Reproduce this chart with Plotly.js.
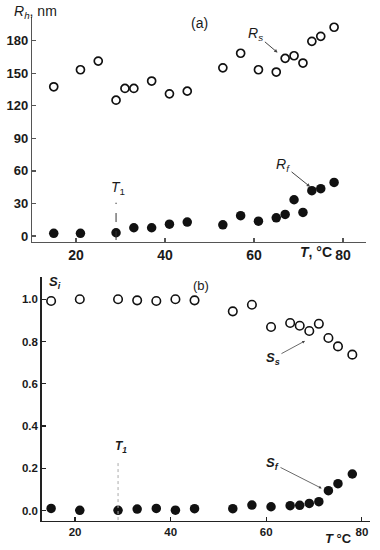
<!DOCTYPE html>
<html>
<head>
<meta charset="utf-8">
<script src="https://cdn.plot.ly/plotly-3.0.1.min.js"></script>
<style>
html,body{margin:0;padding:0;background:#fff;}
#chart{width:380px;height:550px;}
</style>
</head>
<body>
<div id="chart"></div>
<script>
// ---- Data ----
const T_rs = [15,21,25,29,31,33,37,41,45,53,57,61,65,67,69,71,73,75,78];
const Rs   = [137.5,153.2,161.2,125.2,136,136,142.8,131,133.5,155,168.4,153.2,151.1,163.7,166.1,159.4,179.4,184,192.4];
const T_rf = [15,21,29,33,37,41,45,53,57,61,65,67,69,71,73,75,78];
const Rf   = [2.5,2.5,3,7.6,7.6,10.9,12.8,10.3,18.7,13.7,16.8,19.9,33.4,21.7,41.8,43.6,49.4];
const T_s  = [15,21,29,33,37,41,45,53,57,61,65,67,69,71,73,75,78];
const Ss   = [0.992,1.0,1.0,0.995,0.992,1.0,0.995,0.943,0.974,0.869,0.888,0.875,0.85,0.884,0.817,0.777,0.738];
const Sf   = [0.010,0.001,0.001,0.007,0.010,0.002,0.009,0.009,0.026,0.018,0.023,0.025,0.034,0.042,0.094,0.127,0.173];
const T1 = 29;
const xTicks = [20,40,60,80];
const yTicksTop = [0,30,60,90,120,150,180];
const yTicksBot = [0,0.2,0.4,0.6,0.8,1.0];

const W = 380, H = 550;
const px = v => v / W;
const py = v => 1 - v / H;

const FONT = 'Liberation Sans, Arial, sans-serif';
const txt = '#1a1a1a';

const traces = [
  {x:T_rs, y:Rs, xaxis:'x', yaxis:'y', mode:'markers', type:'scatter',
   marker:{size:8, color:'rgba(0,0,0,0)', line:{color:'#111', width:1.7}}},
  {x:T_rf, y:Rf, xaxis:'x', yaxis:'y', mode:'markers', type:'scatter',
   marker:{size:9.5, color:'#111', line:{width:0}}},
  {x:T_s, y:Ss, xaxis:'x2', yaxis:'y2', mode:'markers', type:'scatter',
   marker:{size:8.5, color:'rgba(0,0,0,0)', line:{color:'#111', width:1.6}}},
  {x:T_s, y:Sf, xaxis:'x2', yaxis:'y2', mode:'markers', type:'scatter',
   marker:{size:9.5, color:'#111', line:{width:0}}}
];

const axBase = {
  showgrid:false, zeroline:false, showline:true, ticks:'inside', ticklen:4, tickwidth:1.2,
  mirror:false, fixedrange:true
};

const lbl = (x, y, text, size) => ({xref:'paper', yref:'paper', x:px(x), y:py(y), text:text,
  showarrow:false, xanchor:'center', yanchor:'middle', font:{size:size, color:txt, family:FONT}});
const arrowLbl = (xr, yr, x, y, ax, ay, text, size, w) => ({xref:xr, yref:yr, x:x, y:y, ax:ax, ay:ay,
  text:text, showarrow:true, arrowhead:2, arrowsize:0.7, arrowwidth:w, arrowcolor:'#444', standoff:0,
  borderpad:1, font:{size:size, color:txt, family:FONT}});

const layout = {
  width:W, height:H, showlegend:false,
  margin:{l:0,r:0,t:0,b:0},
  paper_bgcolor:'#fff', plot_bgcolor:'#fff',
  font:{family:FONT, color:txt, size:13},
  xaxis:Object.assign({}, axBase, {
    domain:[px(32.3), px(365.7)], range:[10.18, 85.1], anchor:'y',
    tickvals:xTicks, ticktext:xTicks.map(v => '<b>' + v + '</b>'),
    linecolor:'#555', linewidth:1.5, tickcolor:'#555',
    tickfont:{size:14, family:FONT, color:txt}
  }),
  yaxis:Object.assign({}, axBase, {
    domain:[py(241.7), py(16.7)], range:[-5.25, 202.1], anchor:'x',
    tickvals:yTicksTop, ticktext:yTicksTop.map(v => '<b>' + v + '</b>'),
    linecolor:'#555', linewidth:1.5, tickcolor:'#555',
    tickfont:{size:13, family:FONT, color:txt}
  }),
  xaxis2:Object.assign({}, axBase, {
    domain:[px(41.7), px(370)], range:[13.03, 81.7], anchor:'y2',
    tickvals:xTicks, ticktext:xTicks.map(v => '<b>' + v + '</b>'),
    linecolor:'#222', linewidth:1.5, tickcolor:'#222',
    tickfont:{size:11.5, family:FONT, color:txt}
  }),
  yaxis2:Object.assign({}, axBase, {
    domain:[py(520.7), py(276.7)], range:[-0.048, 1.107], anchor:'x2',
    tickvals:yTicksBot, ticktext:yTicksBot.map(v => '<b>' + v.toFixed(1) + '</b>'),
    linecolor:'#222', linewidth:1.5, tickcolor:'#222',
    tickfont:{size:11.5, family:FONT, color:txt}
  }),
  shapes:[
    {type:'line', xref:'x', yref:'y', x0:T1, x1:T1, y0:-3.7, y1:30.7,
     line:{color:'#333', width:1, dash:'dash'}},
    {type:'line', xref:'x2', yref:'y2', x0:T1, x1:T1, y0:-0.045, y1:0.239,
     line:{color:'#aaa', width:1, dash:'dot'}}
  ],
  annotations:[
    lbl(35, 11.7, '<i>R</i><sub><i>h</i></sub>, nm', 14),
    lbl(199, 23.3, '(a)', 14),
    arrowLbl('x', 'y', 65.3, 169, -21.7, -18.4, '<i>R</i><sub><i>s</i></sub>', 14, 1),
    arrowLbl('x', 'y', 72.6, 45.4, -27, -21.7, '<i>R</i><sub><i>f</i></sub>', 14, 1),
    lbl(118, 188.3, '<i>T</i><sub>1</sub>', 14),
    lbl(315.5, 251.7, '<b><i>T</i>, °C</b>', 14),

    lbl(54.5, 282.3, '<b><i>S</i></b><sub><b><i>i</i></b></sub>', 13),
    lbl(200.7, 285, '(b)', 13),
    arrowLbl('x2', 'y2', 68.1, 0.803, -32, 17.3, '<b><i>S</i></b><sub><b><i>s</i></b></sub>', 13, 0.8),
    arrowLbl('x2', 'y2', 71.6, 0.105, -49.2, -25, '<b><i>S</i></b><sub><b><i>f</i></b></sub>', 13, 0.8),
    lbl(121, 446.7, '<b><i>T</i></b><sub><b><i>1</i></b></sub>', 12),
    lbl(338, 538, '<b><i>T</i> °C</b>', 13)
  ]
};

Plotly.newPlot('chart', traces, layout, {displayModeBar:false, staticPlot:true});
</script>
</body>
</html>
